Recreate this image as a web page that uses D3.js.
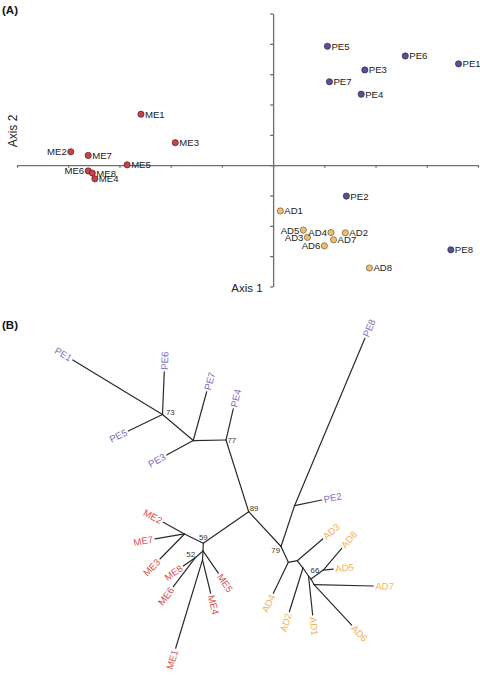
<!DOCTYPE html>
<html><head><meta charset="utf-8">
<script src="https://cdn.jsdelivr.net/npm/d3@7"></script>
<style>body{margin:0;background:#fff}svg{display:block;font-family:Arial,"Liberation Sans",sans-serif}</style>
</head><body><svg id="c" width="480" height="675"></svg>
<script>
// ---- Panel A: ordination scores ----
const sampleNames = ["PE1","PE2","PE3","PE4","PE5","PE6","PE7","PE8",
  "ME1","ME2","ME3","ME4","ME5","ME6","ME7","ME8",
  "AD1","AD2","AD3","AD4","AD5","AD6","AD7","AD8"];
const axis1Scores = [3.62,1.43,1.79,1.72,1.06,2.58,1.10,3.47,
  -2.58,-3.95,-1.91,-3.48,-2.85,-3.61,-3.61,-3.53,
  0.14,1.41,0.67,1.13,0.59,1.00,1.18,1.88];
const axis2Scores = [3.34,-1.02,3.14,2.34,3.92,3.60,2.75,-2.79,
  1.68,0.44,0.74,-0.45,0.01,-0.19,0.32,-0.26,
  -1.51,-2.23,-2.38,-2.22,-2.14,-2.66,-2.46,-3.39];
const xTicks = [-5,-4,-3,-2,-1,0,1,2,3,4];
const yTicks = [-4,-3,-2,-1,0,1,2,3,4,5];
const leftLabeled = ["ME2","ME6","AD3","AD4","AD5","AD6"];

// ---- Panel B: unrooted tree (branch length, branch angle in degrees) ----
const treeIds = ["N89","N77","PE4","NJ","PE7","PE3","N73","PE6","PE1","PE5",
  "N59","NME","ME2","ME7","ME3","NP","N52","ME8","ME6","ME5",
  "NQ","ME4","ME1","N79","NPE2","PE2","PE8","NA","AD4","NB",
  "AD3","NC","AD2","ND","AD1","N66","NG","AD8","AD5","NH","AD7","AD6"];
const treeParents = ["","N89","N77","N77","NJ","NJ","NJ","N73","N73","N73",
  "N89","N59","NME","NME","NME","N59","NP","N52","N52","NP",
  "NP","NQ","NQ","N89","N79","NPE2","NPE2","N79","NA","NA",
  "NB","NB","NC","NC","ND","ND","N66","NG","NG","N66","NH","NH"];
const branchLengths = [0,0.0752,0.0320,0.0327,0.0506,0.0303,0.0403,0.0428,0.1050,0.0380,
  0.0553,0.0210,0.0242,0.0299,0.0350,0.0077,0.0099,0.0149,0.0367,0.0270,
  0.0090,0.0343,0.0923,0.0475,0.0430,0.0278,0.1816,0.0174,0.0344,0.0091,
  0.0334,0.0093,0.0458,0.0097,0.0392,0.0039,0.0152,0.0285,0.0100,0.0063,0.0593,0.0553];
const branchAngles = [0,-107.6,-76.8,179.1,-74.6,151.4,-139.8,-87.6,-148.7,154.2,
  145.2,-153.7,-151.1,170.4,134.4,92.2,139.1,145.1,127.2,55.5,
  93.2,76.2,106.9,47.1,-71.7,-11.8,-67.2,65.2,115.8,-10.1,
  -40.5,52.0,107.4,55.5,83.9,50.2,-36.2,-49.7,-5.7,61.4,1.4,47.1];
const bootNodes = ["N73","N77","N89","N59","N52","N79","NG"];
const bootValues = [73,77,89,59,52,79,66];

const groupFill = {PE:"#5b4f96", ME:"#c6434d", AD:"#f2bd6b"};
const groupStroke = {PE:"#2c2748", ME:"#5a1c20", AD:"#6e5a36"};
const groupText = {PE:"#7a6fc2", ME:"#d9504d", AD:"#f2b256"};

const svg = d3.select("#c");

// panel labels
svg.append("text").attr("x",2).attr("y",14).attr("font-size",11.5).attr("font-weight","bold").attr("fill","#111").text("(A)");
svg.append("text").attr("x",2).attr("y",329).attr("font-size",11.5).attr("font-weight","bold").attr("fill","#111").text("(B)");

// ---- Panel A ----
const x = d3.scaleLinear().domain([-5,4]).range([17,478]);
const y = d3.scaleLinear().domain([-4,5]).range([286.5,13.5]);
const axisCol = "#6f6f6f";
const gx = svg.append("g").attr("transform",`translate(0,${y(0)})`)
  .call(d3.axisBottom(x).tickValues(xTicks).tickSize(2.5).tickSizeOuter(0).tickFormat(""));
const gy = svg.append("g").attr("transform",`translate(${x(0)},0)`)
  .call(d3.axisLeft(y).tickValues(yTicks).tickSize(3).tickSizeOuter(0).tickFormat(""));
[gx,gy].forEach(g=>{
  g.selectAll("path,line").attr("stroke",axisCol).attr("stroke-width",1.3);
});
svg.append("text").attr("transform",`translate(17,${131}) rotate(-90)`).attr("text-anchor","middle")
  .attr("font-size",12).attr("fill","#222").text("Axis 2");
svg.append("text").attr("x",x(0)-10.5).attr("y",291.5).attr("text-anchor","end")
  .attr("font-size",11.5).attr("fill","#222").text("Axis 1");

const pts = sampleNames.map((n,i)=>({name:n,g:n.slice(0,2),x:axis1Scores[i],y:axis2Scores[i]}));
const pg = svg.append("g").selectAll("g").data(pts).join("g")
  .attr("transform",d=>`translate(${x(d.x)},${y(d.y)})`);
pg.append("circle").attr("r",3.1).attr("fill",d=>groupFill[d.g]).attr("stroke",d=>groupStroke[d.g]).attr("stroke-width",0.7);
pg.append("text").attr("font-size",9.6).attr("fill","#222").attr("dy","0.36em")
  .attr("x",d=>leftLabeled.includes(d.name)?-4:4)
  .attr("text-anchor",d=>leftLabeled.includes(d.name)?"end":"start")
  .text(d=>d.name);

// ---- Panel B ----
const table = treeIds.map((id,i)=>({id, parent:treeParents[i]||null, len:branchLengths[i], ang:branchAngles[i]}));
const root = d3.stratify().id(d=>d.id).parentId(d=>d.parent)(table);
root.each(n=>{
  if(!n.parent){n.tx=0;n.ty=0;return;}
  const a = n.data.ang*Math.PI/180;
  n.tx = n.parent.tx + n.data.len*Math.cos(a);
  n.ty = n.parent.ty + n.data.len*Math.sin(a);
});
const tx = d3.scaleLinear().domain([-0.2,0.15]).range([48.7,398.7]);
const ty = d3.scaleLinear().domain([-0.2,0.15]).range([311.7,661.7]);

svg.append("g").selectAll("line").data(root.descendants().filter(n=>n.parent)).join("line")
  .attr("x1",n=>tx(n.parent.tx)).attr("y1",n=>ty(n.parent.ty))
  .attr("x2",n=>tx(n.tx)).attr("y2",n=>ty(n.ty))
  .attr("stroke","#2a2a2a").attr("stroke-width",1.2).attr("stroke-linecap","round");

svg.append("g").selectAll("text").data(root.leaves()).join("text")
  .each(function(n){
    let a = n.data.ang;
    const flip = Math.cos(a*Math.PI/180) < 0;
    const rot = flip ? a-180 : a;
    const r = a*Math.PI/180;
    const px = tx(n.tx)+2*Math.cos(r), py = ty(n.ty)+2*Math.sin(r);
    d3.select(this).attr("transform",`translate(${px},${py}) rotate(${rot})`)
      .attr("text-anchor",flip?"end":"start").attr("dy","0.35em");
  })
  .attr("font-size",9.6).attr("fill",n=>groupText[n.id.slice(0,2)]).text(n=>n.id);

const bootOffset = {N73:[3.5,-2.5,"start"],N77:[1.5,0,"start"],N89:[1,-3,"start"],N59:[0,-5.5,"middle"],
  N52:[-0.5,-3,"end"],N79:[-1,3.5,"end"],NG:[-4,0,"end"]};
const nodeById = new Map(root.descendants().map(n=>[n.id,n]));
svg.append("g").selectAll("text").data(bootNodes.map((id,i)=>({id,v:bootValues[i]}))).join("text")
  .attr("x",d=>tx(nodeById.get(d.id).tx)+bootOffset[d.id][0])
  .attr("y",d=>ty(nodeById.get(d.id).ty)+bootOffset[d.id][1])
  .attr("text-anchor",d=>bootOffset[d.id][2]).attr("dy","0.35em")
  .attr("font-size",7.8).attr("fill","#333").text(d=>d.v);
</script></body></html>
